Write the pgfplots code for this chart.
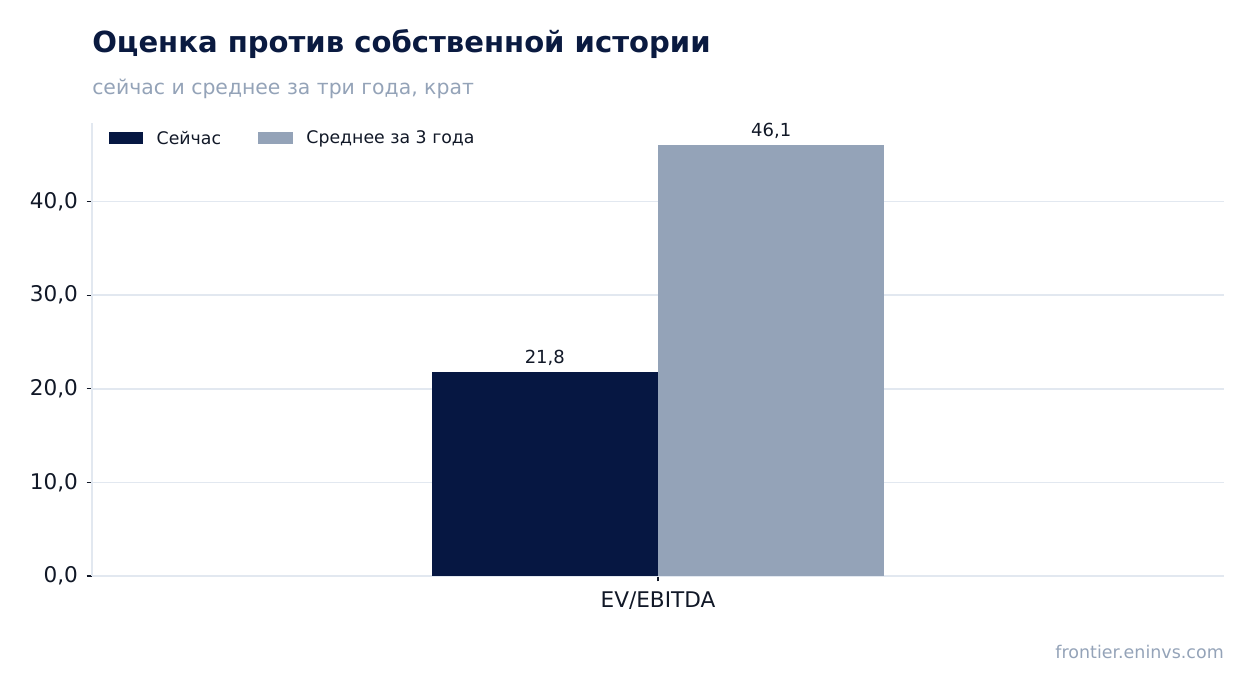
\documentclass[border=0pt]{standalone}
\usepackage{pgfplots}
\pgfplotsset{compat=1.18}
\usepackage{fontspec}
\setmainfont{DejaVu Sans}
\definecolor{navy}{HTML}{061742}
\definecolor{slate}{HTML}{94A3B8}
\definecolor{gridc}{HTML}{E2E8F0}
\definecolor{titlec}{HTML}{0A1A40}
\definecolor{txt}{HTML}{111827}
\begin{document}
\begin{tikzpicture}[x=1pt,y=1pt]
\path (0,0) rectangle (940.5,519.75);
\node[anchor=base west,font=\fontsize{21.8}{25}\selectfont\bfseries,text=titlec,inner sep=0] at (69,480) {Оценка против собственной истории};
\node[anchor=base west,font=\fontsize{15.3}{18}\selectfont,text=slate,inner sep=0] at (69,448.5) {сейчас и среднее за три года, крат};
\node[anchor=base east,font=\fontsize{13.1}{15}\selectfont,text=slate,inner sep=0] at (918,26) {frontier.eninvs.com};
\begin{axis}[
  at={(69pt,87.75pt)}, anchor=south west,
  width=849pt, height=339.75pt, scale only axis,
  ybar=0pt, bar width=0.4,
  xmin=-1, xmax=1, ymin=0, ymax=48.4,
  xtick={0}, xticklabels={EV/EBITDA},
  ytick={0,10,20,30,40},
  ymajorgrids, grid style={gridc, line width=1.1pt},
  axis line style={gridc, line width=1.1pt},
  axis x line*=bottom, axis y line*=left,
  tick style={txt, line width=0.8pt}, major tick length=4pt,
  tick align=outside,
  ticklabel style={font=\fontsize{16.2}{19}\selectfont, text=txt},
  /pgf/number format/.cd, fixed, fixed zerofill, precision=1, use comma, assume math mode=true,
  /pgfplots/.cd,
  yticklabel style={xshift=-3pt},
  xticklabel style={yshift=-4pt},
  nodes near coords, nodes near coords style={font=\fontsize{13.5}{16}\selectfont, text=txt, yshift=1pt, /pgf/number format/.cd, fixed, fixed zerofill, precision=1, use comma, assume math mode=true},
  legend style={draw=none, fill=none, at={(0.011,0.995)}, anchor=north west, font=\fontsize{13}{15}\selectfont, text=txt, legend columns=2, /tikz/every odd column/.append style={column sep=8pt}, /tikz/every even column/.append style={column sep=26pt}},
  legend image code/.code={\fill[#1] (0pt,-4.5pt) rectangle (26pt,4.5pt);},
  clip=false,
]
\addplot[fill=navy, draw=none] coordinates {(0,21.8)};
\addplot[fill=slate, draw=none] coordinates {(0,46.1)};
\legend{Сейчас, Среднее за 3 года}
\end{axis}
\end{tikzpicture}
\end{document}
